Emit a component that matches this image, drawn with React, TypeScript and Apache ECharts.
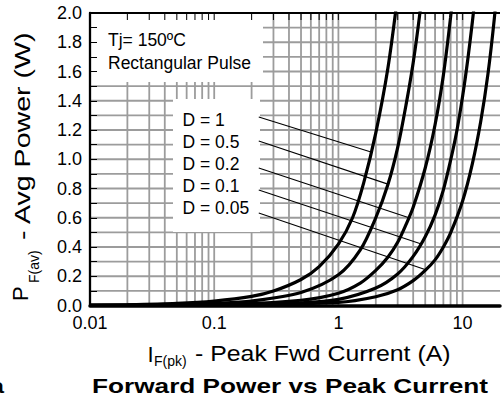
import React, { useEffect, useRef } from "react";
import * as echarts from "echarts";

// ---- data ----
const xTickValues = [0.01, 0.1, 1, 10];
const xTickLabels = ["0.01", "0.1", "1", "10"];
const yTickLabels = ["0.0", "0.2", "0.4", "0.6", "0.8", "1.0", "1.2", "1.4", "1.6", "1.8", "2.0"];
const xGridValues = [
  0.02, 0.03, 0.04, 0.05, 0.06, 0.07, 0.08, 0.09, 0.1,
  0.2, 0.3, 0.4, 0.5, 0.6, 0.7, 0.8, 0.9, 1,
  2, 3, 4, 5, 6, 7, 8, 9, 10,
];
const yGridValues = [0.1, 0.2, 0.3, 0.4, 0.5, 0.6, 0.7, 0.8, 0.9, 1.0, 1.1, 1.2, 1.3, 1.4, 1.5, 1.6, 1.7, 1.8, 1.9];

const dutyLabels = ["D = 1", "D = 0.5", "D = 0.2", "D = 0.1", "D = 0.05"];

const curveD1 = [[0.01, 0.002], [0.02, 0.005], [0.05, 0.014], [0.1, 0.03], [0.2, 0.062], [0.3, 0.099], [0.5, 0.178], [0.7, 0.266], [1.0, 0.42], [1.3, 0.6], [1.6, 0.84], [2.0, 1.18], [2.5, 1.62], [3.0, 2.12]];
const curveD05 = [[0.01, 0.001], [0.05, 0.007], [0.1, 0.015], [0.2, 0.031], [0.5, 0.089], [1.0, 0.21], [1.5, 0.38], [2.0, 0.6], [2.5, 0.825], [3.0, 1.08], [3.5, 1.37], [4.0, 1.66], [4.5, 1.98], [5.0, 2.33]];
const curveD02 = [[0.01, 0.0004], [0.1, 0.006], [0.5, 0.036], [1, 0.084], [1.5, 0.153], [2, 0.24], [2.5, 0.33], [3, 0.432], [3.5, 0.553], [4, 0.672], [5, 0.94], [6, 1.236], [7, 1.575], [8, 1.97], [9, 2.38]];
const curveD01 = [[0.01, 0.0002], [0.1, 0.003], [0.5, 0.018], [1, 0.042], [2, 0.12], [3, 0.216], [4, 0.336], [5, 0.47], [6, 0.618], [7, 0.791], [8, 0.992], [9, 1.197], [10, 1.43], [11, 1.68], [12, 1.944], [13, 2.21]];
const curveD005 = [[0.01, 0.0001], [0.1, 0.0015], [1, 0.021], [2, 0.06], [3, 0.108], [4, 0.17], [5, 0.24], [6, 0.312], [7, 0.4], [8, 0.496], [10, 0.715], [12, 0.972], [14, 1.26], [16, 1.584], [18, 1.962], [20, 2.38]];
const curves = [curveD1, curveD05, curveD02, curveD01, curveD005];

// leader lines from the D labels to the curves (data units)
const leaderStart = [[0.2285, 1.289], [0.2285, 1.125], [0.2285, 0.94], [0.2285, 0.79], [0.2285, 0.632]];
const leaderEnd = [[1.83, 1.05], [2.5, 0.83], [3.7, 0.6], [4.65, 0.42], [5.05, 0.245]];

const FONT = "'Liberation Sans', Arial, Helvetica, sans-serif";

export default function App() {
  const ref = useRef<HTMLDivElement>(null);

  useEffect(() => {
    if (!ref.current) return;
    const chart = echarts.init(ref.current, undefined, { renderer: "svg" });

    const gridSeries = {
      type: "custom",
      z: 1,
      silent: true,
      data: [[0.1, 1]],
      renderItem: (params: any, api: any) => {
        const children: any[] = [];
        const gs = { stroke: "#9c9c9c", lineWidth: 1.8 };
        xGridValues.forEach((v) => {
          const p0 = api.coord([v, 0]);
          const p1 = api.coord([v, 2]);
          children.push({ type: "line", shape: { x1: p0[0], y1: p0[1], x2: p1[0], y2: p1[1] }, style: gs });
        });
        yGridValues.forEach((v) => {
          const p0 = api.coord([0.01, v]);
          const p1 = api.coord([20, v]);
          children.push({ type: "line", shape: { x1: p0[0], y1: p0[1], x2: p1[0], y2: p1[1] }, style: gs });
        });
        return { type: "group", children };
      },
    };

    const tickSeries = {
      type: "custom",
      z: 5,
      silent: true,
      data: [[0.1, 1]],
      renderItem: (params: any, api: any) => {
        const children: any[] = [];
        const ts = { stroke: "#111", lineWidth: 1.1 };
        xGridValues.forEach((v) => {
          const p = api.coord([v, 2]);
          children.push({ type: "line", shape: { x1: p[0], y1: p[1], x2: p[0], y2: p[1] + 7 }, style: ts });
        });
        const a = api.coord([0.01, 2]);
        const b = api.coord([20, 2]);
        children.push({ type: "line", shape: { x1: a[0] - 1, y1: a[1], x2: b[0], y2: b[1] }, style: { stroke: "#000", lineWidth: 2.2 } });
        return { type: "group", children };
      },
    };

    const curveSeries = curves.map((c, i) => ({
      type: "line",
      name: dutyLabels[i],
      z: 3,
      data: c,
      showSymbol: false,
      symbol: "none",
      smooth: 0.3,
      clip: true,
      lineStyle: { color: "#000", width: 3.2 },
      silent: true,
    }));

    const leaderSeries = leaderStart.map((s, i) => ({
      type: "line",
      z: 3,
      data: [s, leaderEnd[i]],
      showSymbol: false,
      symbol: "none",
      lineStyle: { color: "#000", width: 1.1 },
      silent: true,
    }));

    const textStyle = (size: number, extra: any = {}) => ({
      fontSize: size,
      fontFamily: FONT,
      fill: "#000",
      align: "left",
      verticalAlign: "middle",
      ...extra,
    });

    const graphics: any[] = [
      // white annotation boxes over the grid
      { type: "rect", z: 2, silent: true, shape: { x: 91, y: 14, width: 172, height: 68 }, style: { fill: "#fff" } },
      { type: "rect", z: 2, silent: true, shape: { x: 173, y: 99, width: 87, height: 133 }, style: { fill: "#fff" } },
      { type: "text", z: 6, x: 108, y: 40, style: { text: "Tj= 150ºC", ...textStyle(17.5) } },
      { type: "text", z: 6, x: 108, y: 62.5, style: { text: "Rectangular Pulse", ...textStyle(17.5) } },
      ...dutyLabels.map((t, i) => ({
        type: "text", z: 6, x: 182.5, y: 119.5 + i * 22.1, style: { text: t, ...textStyle(17.5) },
      })),
      // x axis name
      { type: "text", z: 6, x: 147.5, y: 354, style: { text: "I", ...textStyle(22) } },
      { type: "text", z: 6, x: 154, y: 361, style: { text: "F(pk)", ...textStyle(14) } },
      { type: "text", z: 6, x: 195, y: 354, scaleX: 1.13, style: { text: "- Peak Fwd Current (A)", ...textStyle(22) } },
      // y axis name (rotated)
      { type: "text", z: 6, x: 20, y: 301, rotation: Math.PI / 2, style: { text: "P", ...textStyle(22) } },
      { type: "text", z: 6, x: 34, y: 283, rotation: Math.PI / 2, style: { text: "F(av)", ...textStyle(14) } },
      { type: "text", z: 6, x: 22, y: 240, rotation: Math.PI / 2, scaleX: 1.3, style: { text: "- Avg Power (W)", ...textStyle(22) } },
      // title
      { type: "text", z: 6, x: 92, y: 385.5, scaleX: 1.248, style: { text: "Forward Power vs Peak Current", ...textStyle(21, { fontWeight: "bold" }) } },
      { type: "text", z: 6, x: 4, y: 385.5, scaleX: 1.2, style: { text: "a", ...textStyle(21, { fontWeight: "bold", align: "right" }) } },
    ];

    chart.setOption({
      animation: false,
      backgroundColor: "#fff",
      grid: { left: 90, top: 13, width: 413, height: 292.5, containLabel: false },
      xAxis: {
        type: "log",
        logBase: 10,
        min: 0.01,
        max: 20,
        z: 5,
        axisLine: { show: true, lineStyle: { color: "#000", width: 3.5 } },
        axisTick: { show: false },
        minorTick: { show: false },
        splitLine: { show: false },
        axisLabel: {
          margin: 8,
          fontSize: 18,
          fontFamily: FONT,
          color: "#000",
          showMinLabel: true,
          showMaxLabel: true,
          formatter: (v: number) => {
            const i = xTickValues.findIndex((d) => Math.abs(Math.log10(v) - Math.log10(d)) < 1e-6);
            return i >= 0 ? xTickLabels[i] : "";
          },
        },
      },
      yAxis: {
        type: "value",
        min: 0,
        max: 2,
        interval: 0.1,
        z: 5,
        axisLine: { show: true, lineStyle: { color: "#000", width: 2.3 } },
        axisTick: { show: true, inside: true, length: 7, lineStyle: { color: "#000", width: 1 } },
        splitLine: { show: false },
        axisLabel: {
          margin: 8,
          fontSize: 18,
          fontFamily: FONT,
          color: "#000",
          formatter: (v: number) => {
            const k = Math.round(v * 10);
            return k % 2 === 0 ? yTickLabels[k / 2] : "";
          },
        },
      },
      graphic: { elements: graphics },
      series: [gridSeries, ...curveSeries, ...leaderSeries, tickSeries],
    } as any);

    return () => chart.dispose();
  }, []);

  return (
    <div
      ref={ref}
      style={{ position: "fixed", left: 0, top: 0, width: 503, height: 404, background: "#fff" }}
    />
  );
}
